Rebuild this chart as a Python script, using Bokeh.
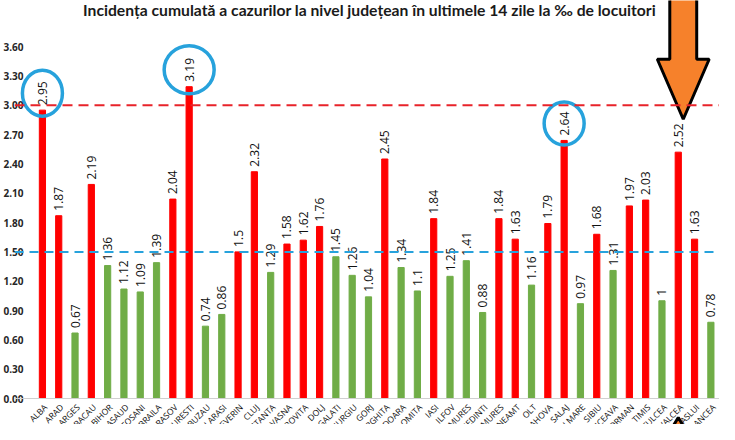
import numpy as np
from bokeh.plotting import figure
from bokeh.models import Range1d, FixedTicker, Span, ColumnDataSource, NumeralTickFormatter
from bokeh.core.properties import value
from bokeh.embed import file_html
from bokeh.resources import INLINE

TITLE = "Incidența cumulată a cazurilor la nivel județean în ultimele 14 zile la ‰ de locuitori"
COUNTIES = ["ALBA", "ARAD", "ARGES", "BACAU", "BIHOR", "BISTRITA NASAUD", "BOTOSANI",
            "BRAILA", "BRASOV", "BUCURESTI", "BUZAU", "CALARASI", "CARAS-SEVERIN", "CLUJ",
            "CONSTANTA", "COVASNA", "DAMBOVITA", "DOLJ", "GALATI", "GIURGIU", "GORJ",
            "HARGHITA", "HUNEDOARA", "IALOMITA", "IASI", "ILFOV", "MARAMURES", "MEHEDINTI",
            "MURES", "NEAMT", "OLT", "PRAHOVA", "SALAJ", "SATU MARE", "SIBIU", "SUCEAVA",
            "TELEORMAN", "TIMIS", "TULCEA", "VALCEA", "VASLUI", "VRANCEA"]
INCIDENCE = [2.95, 1.87, 0.67, 2.19, 1.36, 1.12, 1.09,
             1.39, 2.04, 3.19, 0.74, 0.86, 1.5, 2.32,
             1.29, 1.58, 1.62, 1.76, 1.45, 1.26, 1.04,
             2.45, 1.34, 1.1, 1.84, 1.25, 1.41, 0.88,
             1.84, 1.63, 1.16, 1.79, 2.64, 0.97, 1.68, 1.31,
             1.97, 2.03, 1, 2.52, 1.63, 0.78]
Y_TICKS = [0.0, 0.3, 0.6, 0.9, 1.2, 1.5, 1.8, 2.1, 2.4, 2.7, 3.0, 3.3, 3.6]
HIGH_THRESHOLD = 3.0
ALERT_THRESHOLD = 1.5
CIRCLED = ["ALBA", "BUCURESTI", "SALAJ"]
ARROW_TARGET = "VALCEA"

RED = "#ff0000"
GREEN = "#70ad47"
BLUE = "#27a2dc"
ORANGE = "#f6812b"

# layout (pixels)
W, H = 719, 424
LEFT = 12                 # frame left inside the figure
FIRST_BAR_PX = 40         # first bar centre, from figure left
SPACING = 16.35           # pixels per category
ZERO_PX = 398             # zero line, from figure top
SCALE = 97.75             # pixels per data unit (y)

N = len(COUNTIES)
X0 = -(FIRST_BAR_PX - LEFT) / SPACING
X1 = X0 + (W - LEFT) / SPACING
Y0 = -(H - ZERO_PX) / SCALE
Y1 = Y0 + H / SCALE
PX_X = 1 / SPACING
PX_Y = 1 / SCALE

idx = np.arange(N)
vals = np.array(INCIDENCE)
colors = [RED if v >= ALERT_THRESHOLD else GREEN for v in INCIDENCE]
labels = [f"{v:g}" for v in INCIDENCE]
src = ColumnDataSource(dict(x=idx, top=vals, color=colors, label=labels, name=COUNTIES))

p = figure(width=W, height=H, x_range=Range1d(X0, X1), y_range=Range1d(Y0, Y1),
           x_axis_location=None, title=None, toolbar_location=None, output_backend="svg",
           min_border_left=LEFT, min_border_right=0, min_border_top=0, min_border_bottom=0)
p.outline_line_color = None
p.xgrid.visible = False
p.ygrid.visible = False
p.background_fill_color = "white"
p.border_fill_color = "white"

ya = p.yaxis[0]
ya.ticker = FixedTicker(ticks=Y_TICKS)
ya.formatter = NumeralTickFormatter(format="0.00")
ya.axis_line_color = None
ya.major_tick_line_color = None
ya.minor_tick_line_color = None
ya.major_tick_out = 0
ya.major_tick_in = 0
ya.major_label_standoff = -9
ya.major_label_text_font = "Open Sans"
ya.major_label_text_font_style = "bold"
ya.major_label_text_font_size = "10px"
ya.major_label_text_color = "#262626"

# baseline
p.add_layout(Span(location=0, dimension="width", line_color="#d0d0d0", line_width=1))

# bars
p.vbar(x="x", top="top", bottom=0, width=0.38, color="color", source=src)

# thresholds
p.add_layout(Span(location=HIGH_THRESHOLD, dimension="width", line_color="#e8232a",
                  line_width=2, line_dash="10 6"))
p.add_layout(Span(location=ALERT_THRESHOLD, dimension="width", line_color=BLUE,
                  line_width=2, line_dash="9 6"))

# value labels
p.text(x="x", y="top", text="label", source=src, angle=np.pi / 2, text_align="left",
       text_baseline="middle", y_offset=-5, text_font=value("Open Sans"),
       text_font_size="12px", text_color="#111111")

# category labels
p.text(x="x", y=0, text="name", source=src, angle=np.pi / 4, text_align="right",
       text_baseline="middle", x_offset=3, y_offset=7, text_font=value("Open Sans"),
       text_font_size="8.5px", text_color="#111111")

# highlight circles
c_idx = [COUNTIES.index(c) for c in CIRCLED]
p.ellipse(x=c_idx, y=[INCIDENCE[i] + 17 * PX_Y for i in c_idx],
          width=[40, 50, 40], height=[46, 48, 43], width_units="screen", height_units="screen",
          fill_color=None, line_color=BLUE, line_width=3.5)

# arrows pointing at the target county
t = COUNTIES.index(ARROW_TARGET)
cx = t + 5 * PX_X
tip = HIGH_THRESHOLD - 14 * PX_Y
base = tip + 60 * PX_Y
top = tip + 200 * PX_Y
sh, hh = 13.5 * PX_X, 26 * PX_X
p.patch([cx - sh, cx - sh, cx - hh, cx, cx + hh, cx + sh, cx + sh],
        [top, base, base, tip, base, base, top],
        fill_color=ORANGE, line_color="black", line_width=3)

cx2 = t + 0 * PX_X
tip2 = 0 - 19 * PX_Y
base2 = tip2 - 40 * PX_Y
bot2 = tip2 - 150 * PX_Y
sh2, hh2 = 12 * PX_X, 24 * PX_X
p.patch([cx2 - sh2, cx2 - sh2, cx2 - hh2, cx2, cx2 + hh2, cx2 + sh2, cx2 + sh2],
        [bot2, base2, base2, tip2, base2, base2, bot2],
        fill_color=ORANGE, line_color="black", line_width=3)

# title
p.text(x=[(368 - FIRST_BAR_PX) * PX_X], y=[Y1 - 0.5 * PX_Y], text=[TITLE], text_align="center",
       text_baseline="top", text_font=value("Lato"), text_font_style="bold",
       text_font_size="15.7px", text_color="#1a1a1a")

open("out.html", "w").write(file_html(p, INLINE))
